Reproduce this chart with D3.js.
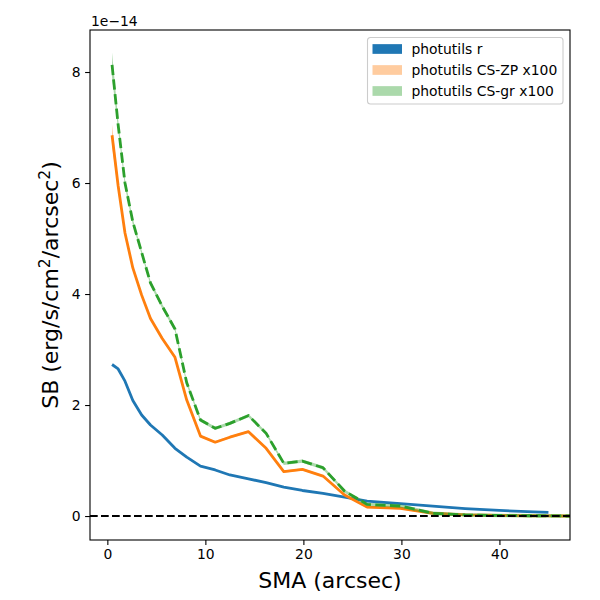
<!DOCTYPE html>
<html>
<head>
<meta charset="utf-8">
<script src="https://cdn.jsdelivr.net/npm/d3@7"></script>
<style>
  body { margin: 0; background: #fff; }
  svg { font-family: "DejaVu Sans", sans-serif; }
</style>
</head>
<body>
<svg id="chart" width="600" height="600"></svg>
<script>
// SMA in arcsec, SB in units of 1e-14 erg/s/cm^2/arcsec^2
const sma      = [0.48, 1.1, 1.8, 2.6, 3.5, 4.4, 5.6, 6.9, 8.1, 9.5, 11.0, 12.5, 14.4, 16.2, 18.0, 19.9, 22.0, 24.2, 26.5, 29.9, 33.2, 36.5, 40.0, 43.5, 45.0, 47.0, 50.0];
const sbR      = [2.73, 2.65, 2.43, 2.08, 1.82, 1.64, 1.46, 1.22, 1.06, 0.90, 0.83, 0.74, 0.67, 0.60, 0.52, 0.46, 0.41, 0.34, 0.27, 0.225, 0.18, 0.135, 0.10, 0.075, 0.067];
const sbZP     = [6.86, 5.95, 5.10, 4.47, 3.98, 3.56, 3.20, 2.86, 2.09, 1.44, 1.33, 1.42, 1.52, 1.22, 0.80, 0.84, 0.72, 0.38, 0.16, 0.14, 0.05, 0.02, 0.01, 0.005, 0.003, 0.0, 0.0];
const errZP    = [0.19, 0.10, 0.06, 0.04, 0.03, 0.03, 0.03, 0.03, 0.03, 0.02, 0.02, 0.02, 0.02, 0.02, 0.02, 0.02, 0.02, 0.02, 0.02, 0.02, 0.02, 0.02, 0.02, 0.02, 0.02, 0.02, 0.02];
const sbGR     = [8.13, 7.05, 6.00, 5.30, 4.75, 4.20, 3.78, 3.37, 2.40, 1.73, 1.58, 1.67, 1.81, 1.49, 0.95, 0.99, 0.87, 0.45, 0.21, 0.18, 0.05, 0.02, 0.01, 0.005, 0.003, 0.0, 0.0];
const errGR    = [0.22, 0.10, 0.07, 0.05, 0.04, 0.04, 0.04, 0.04, 0.04, 0.03, 0.03, 0.03, 0.03, 0.03, 0.03, 0.03, 0.03, 0.03, 0.03, 0.03, 0.03, 0.03, 0.03, 0.03, 0.03, 0.03, 0.03];
const xTicks   = [0, 10, 20, 30, 40];
const yTicks   = [0, 2, 4, 6, 8];
const legendLabels = ["photutils r", "photutils CS-ZP x100", "photutils CS-gr x100"];

const svg = d3.select("#chart"),
      margin = {top: 30, right: 30, bottom: 60, left: 90},
      width = 600 - margin.left - margin.right,
      height = 600 - margin.top - margin.bottom;

const x = d3.scaleLinear().domain([-1.77, 47.2]).range([0, width]);
const y = d3.scaleLinear().domain([-0.432, 8.757]).range([height, 0]);

const g = svg.append("g").attr("transform", "translate(" + margin.left + "," + margin.top + ")");

g.append("clipPath").attr("id", "clip")
  .append("rect").attr("width", width).attr("height", height);

const plot = g.append("g").attr("clip-path", "url(#clip)");

function rows(vals, errs) {
  return vals.map((v, i) => ({x: sma[i], y: v, e: errs ? errs[i] : 0}));
}

const line = d3.line().x(d => x(d.x)).y(d => y(d.y));
const band = d3.area().x(d => x(d.x)).y0(d => y(d.y - d.e)).y1(d => y(d.y + d.e));

// photutils r
plot.append("path").datum(rows(sbR))
  .attr("d", line).attr("fill", "none")
  .attr("stroke", "#1f77b4").attr("stroke-width", 2.8)
  .attr("stroke-linejoin", "round");

// CS-ZP
plot.append("path").datum(rows(sbZP, errZP))
  .attr("d", band).attr("fill", "#ff7f0e").attr("fill-opacity", 0.4);
plot.append("path").datum(rows(sbZP))
  .attr("d", line).attr("fill", "none")
  .attr("stroke", "#ff7f0e").attr("stroke-width", 2.8)
  .attr("stroke-linejoin", "round");

// CS-gr
plot.append("path").datum(rows(sbGR, errGR))
  .attr("d", band).attr("fill", "#2ca02c").attr("fill-opacity", 0.4);
plot.append("path").datum(rows(sbGR))
  .attr("d", line).attr("fill", "none")
  .attr("stroke", "#2ca02c").attr("stroke-width", 2.8)
  .attr("stroke-dasharray", "10.3,4.4");

// zero line
plot.append("line")
  .attr("x1", 0).attr("x2", width)
  .attr("y1", y(0)).attr("y2", y(0))
  .attr("stroke", "#000").attr("stroke-width", 2.1)
  .attr("stroke-dasharray", "7.7,3.3");

// axes
const xAxis = g.append("g")
  .attr("transform", "translate(0," + height + ")")
  .call(d3.axisBottom(x).tickValues(xTicks).tickSize(4.9).tickPadding(4.5).tickFormat(d3.format("d")));
const yAxis = g.append("g")
  .call(d3.axisLeft(y).tickValues(yTicks).tickSize(4.9).tickPadding(4.5).tickFormat(d3.format("d")));

[xAxis, yAxis].forEach(a => {
  a.select(".domain").remove();
  a.selectAll(".tick line").attr("stroke", "#000").attr("stroke-width", 1.1);
  a.selectAll(".tick text").attr("font-size", 13.9).attr("fill", "#000")
    .attr("font-family", "DejaVu Sans");
});

g.append("rect")
  .attr("width", width).attr("height", height)
  .attr("fill", "none").attr("stroke", "#000").attr("stroke-width", 1.1);

// offset text
g.append("text").attr("x", 1).attr("y", -4)
  .attr("font-size", 13.9).text("1e\u221214");

// axis labels
svg.append("text")
  .attr("x", margin.left + width / 2).attr("y", 587.5)
  .attr("text-anchor", "middle").attr("font-size", 22)
  .text("SMA (arcsec)");

const yl = svg.append("text")
  .attr("transform", "translate(58," + (margin.top + height / 2) + ") rotate(-90)")
  .attr("text-anchor", "middle").attr("font-size", 22);
yl.append("tspan").text("SB (erg/s/cm");
yl.append("tspan").attr("dy", -8).attr("font-size", 15.5).text("2");
yl.append("tspan").attr("dy", 8).text("/arcsec");
yl.append("tspan").attr("dy", -8).attr("font-size", 15.5).text("2");
yl.append("tspan").attr("dy", 8).text(")");

// legend
const legend = svg.append("g").attr("transform", "translate(367.5,37.5)");
legend.append("rect")
  .attr("width", 195.5).attr("height", 66.5).attr("rx", 3)
  .attr("fill", "#fff").attr("fill-opacity", 0.8)
  .attr("stroke", "#ccc").attr("stroke-width", 1.1);

const legendColors = ["#1f77b4", "#ff7f0e", "#2ca02c"];
const legendAlpha = [1, 0.4, 0.4];
const item = legend.selectAll("g.item")
  .data(legendLabels)
  .enter().append("g")
  .attr("class", "item")
  .attr("transform", (d, i) => "translate(5," + (11.5 + i * 21) + ")");

item.append("rect")
  .attr("width", 29.5).attr("height", 9.7).attr("y", -4.85)
  .attr("fill", (d, i) => legendColors[i])
  .attr("fill-opacity", (d, i) => legendAlpha[i]);

item.append("text")
  .attr("x", 39).attr("y", 5)
  .attr("font-size", 13.9)
  .text(d => d);
</script>
</body>
</html>
